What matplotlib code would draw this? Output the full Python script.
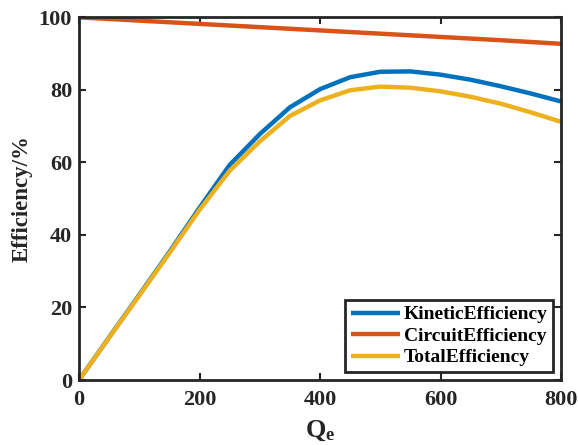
import matplotlib
matplotlib.use("Agg")
import matplotlib.pyplot as plt

qe = [0, 50, 100, 150, 200, 250, 300, 350, 400, 450, 500, 550, 600, 650, 700, 750, 800]
kinetic = [0, 11.8, 23.5, 35.3, 47.5, 59.3, 67.8, 75.2, 80.2, 83.5, 85.0, 85.1, 84.2, 82.8, 81.0, 79.0, 76.8]
total = [0, 11.7, 23.3, 35.0, 46.9, 57.7, 65.8, 72.8, 77.1, 79.9, 80.9, 80.6, 79.6, 78.1, 76.2, 73.8, 71.2]
circuit = [100, 99.55, 99.1, 98.65, 98.2, 97.75, 97.3, 96.85, 96.4, 95.95, 95.5, 95.05, 94.6, 94.15, 93.7, 93.2, 92.7]

labels = ["KineticEfficiency", "CircuitEfficiency", "TotalEfficiency"]
colors = ["#0072BD", "#D95319", "#EDB120"]
xticks = [0, 200, 400, 600, 800]
yticks = [0, 20, 40, 60, 80, 100]

plt.rcParams['font.family'] = ['Liberation Serif', 'DejaVu Serif']
plt.rcParams['font.weight'] = 'bold'
plt.rcParams['mathtext.fontset'] = 'custom'
plt.rcParams['mathtext.bf'] = 'Liberation Serif:bold'
plt.rcParams['mathtext.rm'] = 'Liberation Serif:bold'
plt.rcParams['mathtext.it'] = 'Liberation Serif:bold'

fig = plt.figure(figsize=(5.78, 4.45), dpi=100)
ax = fig.add_axes([0.1367, 0.146, 0.834, 0.815])

for y, lab, c in zip([kinetic, circuit, total], labels, colors):
    ax.plot(qe, y, color=c, lw=3.2, label=lab, solid_capstyle='butt')

ax.set_xlim(0, 800)
ax.set_ylim(0, 100)
ax.set_xticks(xticks)
ax.set_yticks(yticks)
ax.tick_params(direction='in', top=True, right=True, length=5, width=1.5,
               labelsize=16, color='#262626', labelcolor='#262626')
ax.tick_params(axis='x', pad=7)
ax.tick_params(axis='y', pad=5)
for lab in ax.get_xticklabels() + ax.get_yticklabels():
    lab.set_fontweight('bold')
for s in ax.spines.values():
    s.set_linewidth(2)
    s.set_color('#262626')

ax.set_xlabel(r"$\mathbf{Q_e}$", fontsize=19, color='#262626', labelpad=6)
ax.set_ylabel("Efficiency/%", fontsize=16.5, fontweight='bold', color='#262626', labelpad=4)

leg = ax.legend(loc='lower right', frameon=True, fancybox=False,
                edgecolor='#262626', framealpha=1, handlelength=2.5,
                borderaxespad=0.4, labelspacing=0.2, handletextpad=0.2,
                borderpad=0.3, prop={'weight': 'bold', 'size': 14})
leg.get_frame().set_linewidth(2)
for t in leg.get_texts():
    t.set_color('#000000')

fig.savefig("out.png", dpi=100)
